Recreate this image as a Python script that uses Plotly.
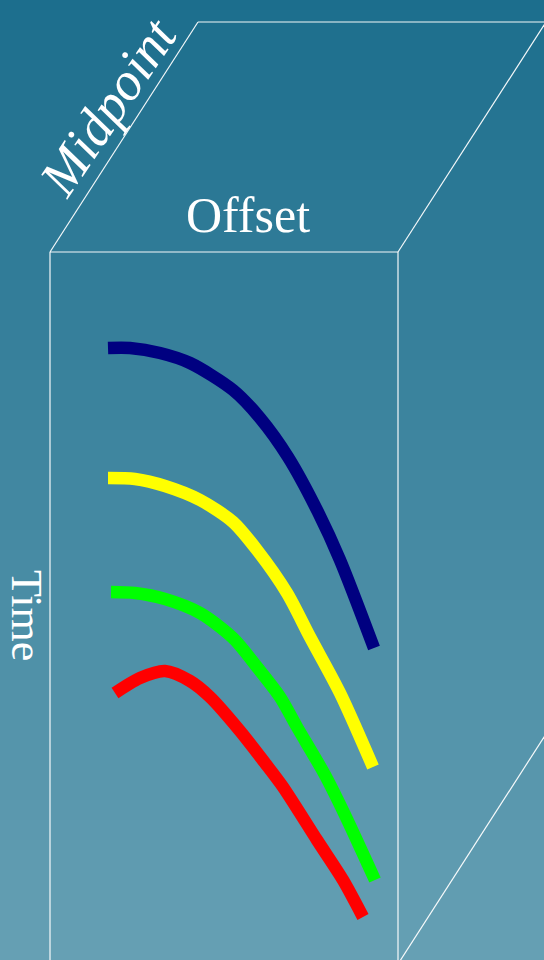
import plotly.graph_objects as go

# Offset (x) and time (y) values for each reflection event
navy_offset = [0.58, 0.80, 1.10, 1.40, 1.83, 2.10, 2.38, 2.68, 2.90, 3.24]
navy_time = [0.96, 0.96, 1.01, 1.11, 1.38, 1.66, 2.05, 2.60, 3.08, 3.96]

yellow_offset = [0.58, 0.85, 1.15, 1.50, 1.83, 2.07, 2.37, 2.60, 2.90, 3.23]
yellow_time = [2.26, 2.27, 2.34, 2.48, 2.70, 2.98, 3.41, 3.85, 4.41, 5.15]

green_offset = [0.61, 0.85, 1.15, 1.50, 1.83, 2.07, 2.30, 2.47, 2.75, 2.95, 3.25]
green_time = [3.40, 3.41, 3.47, 3.61, 3.86, 4.15, 4.45, 4.75, 5.23, 5.63, 6.28]

red_offset = [0.65, 0.90, 1.15, 1.40, 1.60, 1.90, 2.15, 2.33, 2.67, 2.93, 3.13]
red_time = [4.41, 4.26, 4.19, 4.29, 4.45, 4.79, 5.11, 5.35, 5.88, 6.28, 6.65]

series = [
    (navy_offset, navy_time, "#000080"),
    (yellow_offset, yellow_time, "#ffff00"),
    (green_offset, green_time, "#00ff00"),
    (red_offset, red_time, "#ff0000"),
]

# Box geometry (offset width, time depth, perspective shift of the midpoint axis)
box_w = 3.48
box_h = 7.12
depth_dx = 1.48
depth_dt = -2.30

fig = go.Figure()
for xs, ys, col in series:
    fig.add_trace(go.Scatter(x=xs, y=ys, mode="lines",
                             line=dict(color=col, width=12.5, shape="spline", smoothing=0.8),
                             hoverinfo="skip", showlegend=False))

shapes = []
# background gradient
n = 96
top = (28, 110, 141)
bot = (102, 160, 180)
for i in range(n):
    f = (i + 0.5) / n
    c = tuple(round(top[k] + (bot[k] - top[k]) * f) for k in range(3))
    shapes.append(dict(type="rect", xref="paper", yref="paper",
                       x0=0, x1=1, y0=1 - (i + 1) / n - 0.002, y1=1 - i / n,
                       fillcolor="rgb(%d,%d,%d)" % c, line=dict(width=0), layer="below"))

edge = dict(color="rgba(255,255,255,0.95)", width=1.2)
segs = [
    (0, 0, box_w, 0),
    (depth_dx, depth_dt, box_w + depth_dx, depth_dt),
    (0, 0, depth_dx, depth_dt),
    (box_w, 0, box_w + depth_dx, depth_dt),
    (0, 0, 0, box_h),
    (box_w, 0, box_w, box_h),
    (box_w, box_h, box_w + depth_dx, box_h + depth_dt),
]
for x0, y0, x1, y1 in segs:
    shapes.append(dict(type="line", xref="x", yref="y", x0=x0, y0=y0, x1=x1, y1=y1,
                       line=edge, layer="above"))

font = "Liberation Serif, Times New Roman, serif"
annotations = [
    dict(x=1.98, y=-0.37, text="Offset", showarrow=False,
         font=dict(family=font, size=50, color="white")),
    dict(x=-0.23, y=3.63, text="Time", showarrow=False, textangle=90,
         font=dict(family=font, size=44, color="white")),
    dict(x=0.58, y=-1.45, text="<i>Midpoint</i>", showarrow=False, textangle=-56,
         font=dict(family=font, size=54, color="white")),
]

fig.update_layout(
    width=544, height=960,
    margin=dict(l=0, r=0, t=0, b=0),
    paper_bgcolor="rgb(60,130,160)",
    plot_bgcolor="rgba(0,0,0,0)",
    xaxis=dict(range=[-0.5, 4.94], visible=False, fixedrange=True),
    yaxis=dict(range=[7.08, -2.52], visible=False, fixedrange=True),
    shapes=shapes,
    annotations=annotations,
    showlegend=False,
)

fig.write_html("out.html", config={"displayModeBar": False},
               post_script="document.body.style.margin='0';document.body.style.overflow='hidden';")
